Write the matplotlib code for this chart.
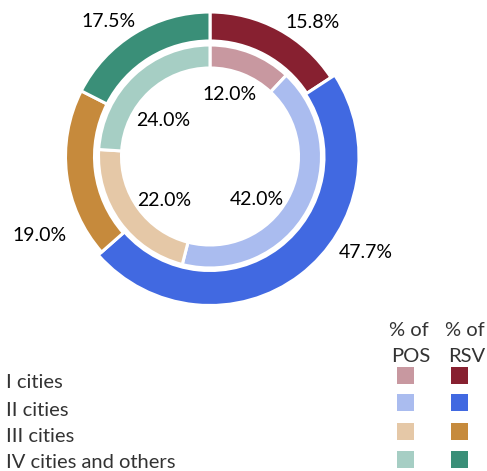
import numpy as np
import matplotlib
matplotlib.use("Agg")
import matplotlib.pyplot as plt
from matplotlib.patches import Rectangle

# ---- data ----
categories = ["I cities", "II cities", "III cities", "IV cities and others"]
pos_share = [12.0, 42.0, 22.0, 24.0]    # % of POS (inner ring)
rsv_share = [15.8, 47.7, 19.0, 17.5]    # % of RSV (outer ring)
legend_headers = ["% of\nPOS", "% of\nRSV"]

# ---- style ----
rsv_colors = ["#872030", "#4169E1", "#C68A3C", "#3A8F78"]
pos_colors = ["#C898A0", "#AABCEF", "#E5C8A7", "#A6CEC4"]
FONT = ["Lato", "DejaVu Sans"]
plt.rcParams["font.family"] = FONT

W, H = 487, 471
fig = plt.figure(figsize=(W / 100, H / 100), dpi=100)
ax = fig.add_axes([0, 0, 1, 1])

cx, cy = 210, H - 156.5
R_out, w_out = 144.5, 29
R_in, w_in = 111.5, 23
emph = 1  # emphasised outer slice (II cities)

outer, _ = ax.pie(rsv_share, radius=R_out, center=(cx, cy), startangle=90,
                  counterclock=False, colors=rsv_colors,
                  wedgeprops=dict(width=w_out, edgecolor="white", linewidth=2.2),
                  frame=True)
outer[emph].set_radius(R_out + 4.5)
outer[emph].set_width(w_out + 6)
inner, _ = ax.pie(pos_share, radius=R_in, center=(cx, cy), startangle=90,
                  counterclock=False, colors=pos_colors,
                  wedgeprops=dict(width=w_in, edgecolor="white", linewidth=2.2),
                  frame=True)

def mids(vals):
    c = np.cumsum([0] + list(vals))
    return [90 - 360 * (c[i] + vals[i] / 2) / 100 for i in range(len(vals))]

# label placement (polar offsets from slice mid-angle)
out_dang = [-8.8, 21.5, 17.3, 5.3]
out_r = [170, 182, 187, 170]
in_dang = [4.1, -12.6, 6.7, 7.8]
in_r = [66.6, 62.7, 62.6, 60]

for vals, dang, rr in ((rsv_share, out_dang, out_r), (pos_share, in_dang, in_r)):
    for v, m, d, r in zip(vals, mids(vals), dang, rr):
        a = np.deg2rad(m + d)
        ax.text(cx + r * np.cos(a), cy + r * np.sin(a), f"{v:.1f}%",
                ha="center", va="center_baseline", fontsize=14, color="black")

# ---- legend ----
row_y = [381, 408.5, 435.5, 461]
sq_y = [375.5, 402.5, 431, 459]
col_x = [405.5, 459.5]
sq = 17
LFS = 14.5
for i, cat in enumerate(categories):
    ax.text(6, H - row_y[i], cat, ha="left", va="center_baseline", fontsize=LFS,
            color="#333333")
    for j, cols in enumerate((pos_colors, rsv_colors)):
        ax.add_patch(Rectangle((col_x[j] - sq / 2, H - sq_y[i] - sq / 2), sq, sq,
                               facecolor=cols[i], edgecolor="none"))
hdr_x = [409, 465]
for j, htxt in enumerate(legend_headers):
    l1, l2 = htxt.split("\n")
    ax.text(hdr_x[j], H - 329, l1, ha="center", va="center_baseline", fontsize=LFS,
            color="#333333")
    ax.text(hdr_x[j] + 2, H - 355, l2, ha="center", va="center_baseline", fontsize=LFS,
            color="#333333")

ax.set_xlim(0, W)
ax.set_ylim(0, H)
ax.set_aspect("auto")
ax.axis("off")
fig.savefig("out.png", dpi=100)
